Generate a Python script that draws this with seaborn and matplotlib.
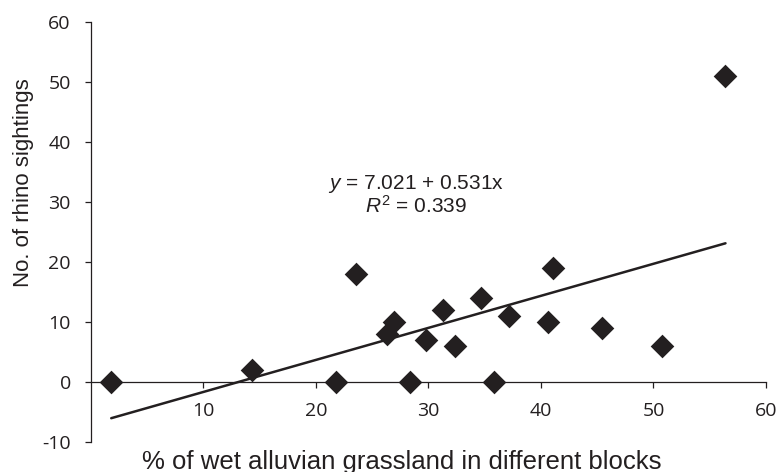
import numpy as np
import pandas as pd
import seaborn as sns
import matplotlib.pyplot as plt

# values
pct_wet_grassland = [1.8, 14.3, 21.8, 23.6, 26.3, 26.9, 28.4, 29.8, 31.3,
                     32.4, 34.7, 35.8, 37.2, 40.6, 41.1, 45.4, 50.8, 56.4]
rhino_sightings = [0, 2, 0, 18, 8, 10, 0, 7, 12,
                   6, 14, 0, 11, 10, 19, 9, 6, 51]

x_ticks = [10, 20, 30, 40, 50, 60]
y_ticks = [-10, 0, 10, 20, 30, 40, 50, 60]

equation_text = "$y$ = 7.021 + 0.531x\n$R^{\\mathrm{2}}$ = 0.339"

ink = "#231f20"

sns.set_style("ticks")
plt.rcParams["font.family"] = ["Liberation Sans", "DejaVu Sans"]
plt.rcParams["mathtext.fontset"] = "custom"
plt.rcParams["mathtext.rm"] = "Liberation Sans"
plt.rcParams["mathtext.it"] = "Liberation Sans:italic"
plt.rcParams["axes.unicode_minus"] = False

df = pd.DataFrame({"pct": pct_wet_grassland, "rhino": rhino_sightings})

fig = plt.figure(figsize=(7.79, 4.72), dpi=100)
ax = fig.add_axes([0.1168, 0.0636, 0.8665, 0.8898])

sns.regplot(data=df, x="pct", y="rhino", ax=ax, ci=None, truncate=True,
            marker="D", color=ink,
            scatter_kws={"s": 145, "linewidths": 0, "alpha": 1, "zorder": 3},
            line_kws={"lw": 1.8, "color": ink})

ax.set_xlim(0, 60)
ax.set_ylim(-10, 60)
ax.set_xticks(x_ticks)
ax.set_yticks(y_ticks)

# x axis sits on y = 0
ax.spines["bottom"].set_position(("data", 0))
ax.spines["top"].set_visible(False)
ax.spines["right"].set_visible(False)
for side in ["left", "bottom"]:
    ax.spines[side].set_linewidth(0.9)
    ax.spines[side].set_color(ink)

ax.tick_params(axis="both", direction="out", length=4.5, width=0.9,
               color=ink, labelcolor=ink, pad=10, labelsize=14)
for lab in ax.get_xticklabels() + ax.get_yticklabels():
    lab.set_fontfamily(["Open Sans", "DejaVu Sans"])

ax.set_xlabel("% of wet alluvian grassland in different blocks",
              fontsize=18.5, color=ink, va="top")
ax.xaxis.set_label_coords(0.46, -0.018)
ax.set_ylabel("No. of rhino sightings", fontsize=16, color=ink)
ax.yaxis.set_label_coords(-0.084, 0.617)

ax.text(28.9, 31.2, equation_text, ha="center", va="center",
        multialignment="center", linespacing=1.0,
        fontsize=15, color=ink)

fig.savefig("out.png", dpi=100, facecolor="white")
